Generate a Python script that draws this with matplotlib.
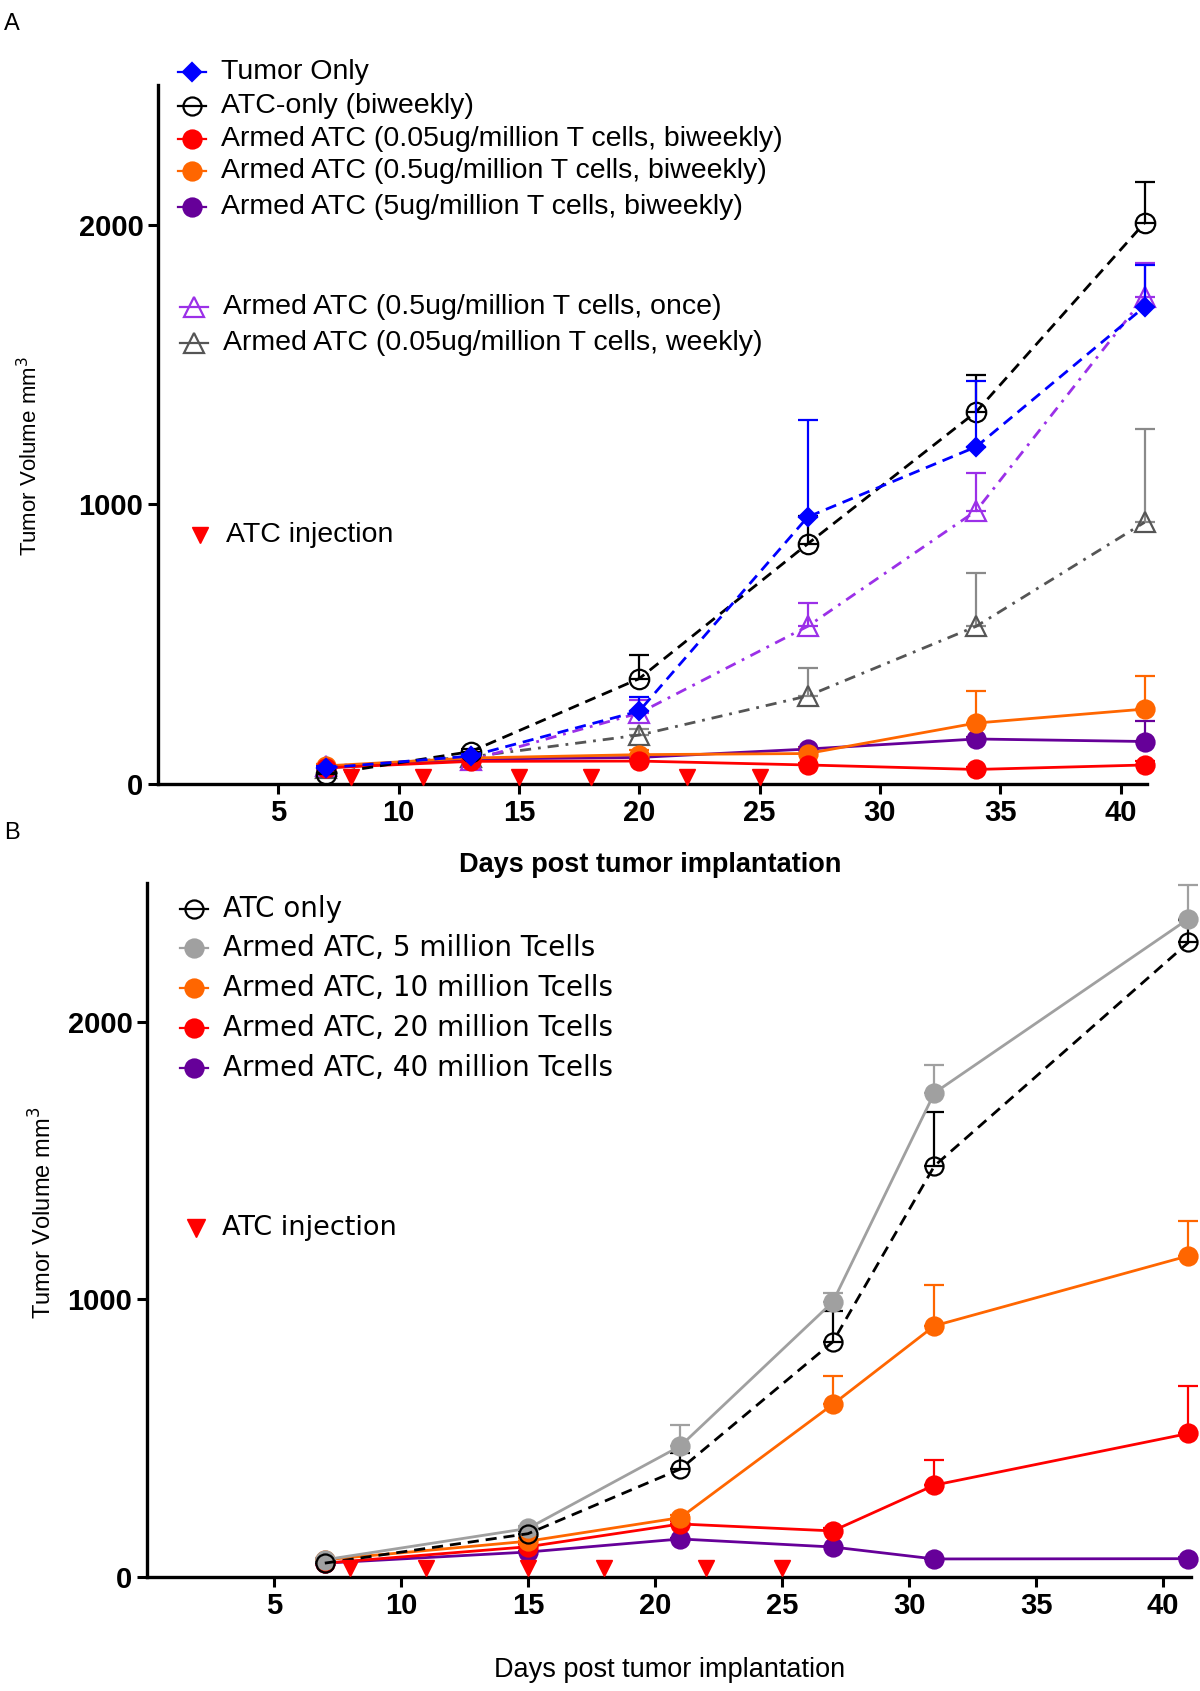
import numpy as np
import matplotlib.pyplot as plt

# ---------------- data, panel A ----------------
days_a = [7, 13, 20, 27, 34, 41]
tumor_only = [58, 100, 261, 955, 1206, 1707]
tumor_only_err = [8, 8, 50, 348, 237, 150]
atc_bi = [35, 116, 377, 859, 1331, 2007]
atc_bi_err = [5, 8, 85, 100, 132, 147]
armed005_bi = [58, 81, 82, 68, 52, 68]
armed005_bi_err = [8, 8, 8, 8, 8, 15]
armed05_bi = [65, 93, 105, 109, 218, 268]
armed05_bi_err = [8, 8, 15, 20, 116, 120]
armed5_bi = [58, 89, 95, 125, 161, 152]
armed5_bi_err = [8, 8, 8, 8, 8, 73]
armed05_once = [65, 85, 254, 564, 977, 1742]
armed05_once_err = [8, 8, 45, 85, 137, 120]
armed005_wk = [58, 97, 175, 315, 564, 936]
armed005_wk_err = [8, 8, 20, 101, 190, 334]
inj_a = [8, 11, 15, 18, 22, 25]

# ---------------- data, panel B ----------------
days_b = [7, 15, 21, 27, 31, 41]
atc_b = [50, 156, 389, 847, 1481, 2286]
atc_b_err = [5, 10, 56, 111, 195, 80]
t5_b = [62, 175, 472, 991, 1744, 2371]
t5_b_err = [5, 10, 74, 32, 101, 123]
t10_b = [62, 129, 214, 622, 905, 1157]
t10_b_err = [5, 10, 10, 102, 147, 124]
t20_b = [50, 109, 191, 166, 331, 517]
t20_b_err = [5, 10, 10, 10, 90, 171]
t40_b = [50, 90, 137, 108, 65, 66]
t40_b_err = [5, 5, 5, 5, 5, 5]
inj_b = [8, 11, 15, 18, 22, 25]

W, H = 1200, 1691
RED = '#FF0000'
ORANGE = '#FF6600'
DPURPLE = '#660099'
VIOLET = '#9B30E8'
DGRAY = '#555555'
LGRAY = '#A0A0A0'
DASH = (4, 2.5)
DASHDOT = (4, 2.5, 1, 2.5)

LA = 'Liberation Sans'
LB = 'DejaVu Sans'
fig = plt.figure(figsize=(12, 16.91), dpi=100)


def fx(px):
    return px / W


def fy(py):
    return 1 - py / H


def style_axes(ax, xlim, tsize):
    ax.set_xlim(*xlim)
    ax.set_ylim(0, 2500)
    ax.set_xticks([5, 10, 15, 20, 25, 30, 35, 40])
    ax.set_yticks([0, 1000, 2000])
    ax.patch.set_visible(False)
    for s in ['top', 'right']:
        ax.spines[s].set_visible(False)
    for s in ['left', 'bottom']:
        ax.spines[s].set_linewidth(2.4)
    ax.tick_params(width=2.2, length=7, labelsize=tsize)
    for lab in ax.get_xticklabels() + ax.get_yticklabels():
        lab.set_fontweight('bold')
        lab.set_family(LA)


def series(ax, x, y, err, color, marker, dashes, mfc, ms, z, ecolor=None):
    zeros = np.zeros(len(err))
    ax.errorbar(x, y, yerr=[zeros, err], fmt='none', ecolor=ecolor or color,
                elinewidth=1.6, capsize=7.5, capthick=1.6, zorder=z - 0.5,
                clip_on=False)
    line, = ax.plot(x, y, color=color, lw=2, marker=marker, ms=ms,
                    mfc=mfc, mec=color, mew=1.6, zorder=z, clip_on=False)
    if dashes is not None:
        line.set_dashes(dashes)


def legend_entry(px, py, color, marker, mfc, ms, label, size, family):
    fig.add_artist(plt.Line2D([fx(px - 14), fx(px + 14)], [fy(py), fy(py)],
                              color=color, lw=1.6))
    fig.add_artist(plt.Line2D([fx(px)], [fy(py)], color=color, marker=marker,
                              ms=ms, mfc=mfc, mec=color, mew=1.6, lw=0))
    fig.text(fx(px + 29), fy(py), label, fontsize=size, family=family,
             va='center', ha='left')


##############################################################################
# Panel A
axA = fig.add_axes([fx(158), fy(784), fx(1147 - 158), (784 - 85) / H])
series(axA, days_a, armed005_wk, armed005_wk_err, DGRAY, '^', DASHDOT, 'none', 14, 3,
       ecolor='#8a8a8a')
series(axA, days_a, armed05_once, armed05_once_err, VIOLET, '^', DASHDOT, 'none', 14, 3.2)
series(axA, days_a, armed5_bi, armed5_bi_err, DPURPLE, 'o', None, DPURPLE, 13, 4)
series(axA, days_a, armed05_bi, armed05_bi_err, ORANGE, 'o', None, ORANGE, 13, 4.2)
series(axA, days_a, armed005_bi, armed005_bi_err, RED, 'o', None, RED, 13, 4.4)
series(axA, days_a, atc_bi, atc_bi_err, 'black', 'o', DASH, 'none', 14, 5)
series(axA, days_a, tumor_only, tumor_only_err, '#0000FF', 'D', DASH, '#0000FF', 9, 5.5)
axA.plot(inj_a, [25] * len(inj_a), 'v', color=RED, ms=11, zorder=6, clip_on=False)
style_axes(axA, (0, 41.1), 21)
fig.text(fx(650), fy(865), 'Days post tumor implantation', fontsize=19.5,
         fontweight='bold', family=LA, ha='center', va='center')
fig.text(fx(30), fy(456), 'Tumor Volume mm$^3$', rotation=90, fontsize=16,
         family=LA, va='center', ha='center')
fig.text(fx(4), fy(24), 'A', fontsize=17, family=LA, va='center')

legend_entry(192, 72, '#0000FF', 'D', '#0000FF', 9, 'Tumor Only', 20.5, LA)
legend_entry(192, 106, 'black', 'o', 'none', 13, 'ATC-only (biweekly)', 20.5, LA)
legend_entry(192, 139, RED, 'o', RED, 13, 'Armed ATC (0.05ug/million T cells, biweekly)', 20.5, LA)
legend_entry(192, 171, ORANGE, 'o', ORANGE, 13, 'Armed ATC (0.5ug/million T cells, biweekly)', 20.5, LA)
legend_entry(192, 207, DPURPLE, 'o', DPURPLE, 13, 'Armed ATC (5ug/million T cells, biweekly)', 20.5, LA)
legend_entry(194, 307, VIOLET, '^', 'none', 14, 'Armed ATC (0.5ug/million T cells, once)', 20.5, LA)
legend_entry(194, 343, DGRAY, '^', 'none', 14, 'Armed ATC (0.05ug/million T cells, weekly)', 20.5, LA)
fig.add_artist(plt.Line2D([fx(200)], [fy(535)], marker='v', color=RED, ms=11, lw=0))
fig.text(fx(226), fy(535), 'ATC injection', fontsize=20.5, family=LA, va='center')

##############################################################################
# Panel B
axB = fig.add_axes([fx(147), fy(1577), fx(1191 - 147), (1577 - 883) / H])
series(axB, days_b, t40_b, t40_b_err, DPURPLE, 'o', None, DPURPLE, 13, 3)
series(axB, days_b, t20_b, t20_b_err, RED, 'o', None, RED, 13, 3.2)
series(axB, days_b, t10_b, t10_b_err, ORANGE, 'o', None, ORANGE, 13, 3.4)
series(axB, days_b, t5_b, t5_b_err, LGRAY, 'o', None, LGRAY, 13, 3.6)
series(axB, days_b, atc_b, atc_b_err, 'black', 'o', DASH, 'none', 13, 4)
axB.plot(inj_b, [32] * len(inj_b), 'v', color=RED, ms=12, zorder=6, clip_on=False)
style_axes(axB, (0, 41.1), 21)
fig.text(fx(670), fy(1670), 'Days post tumor implantation', fontsize=19.5,
         family=LA, ha='center', va='center')
fig.text(fx(43), fy(1213), 'Tumor Volume mm$^3$', rotation=90, fontsize=17,
         family=LA, va='center', ha='center')
fig.text(fx(4), fy(833), 'B', fontsize=17, family=LA, va='center')

legend_entry(194, 909, 'black', 'o', 'none', 13, 'ATC only', 20, LB)
legend_entry(194, 948, LGRAY, 'o', LGRAY, 13, 'Armed ATC, 5 million Tcells', 20, LB)
legend_entry(194, 988, ORANGE, 'o', ORANGE, 13, 'Armed ATC, 10 million Tcells', 20, LB)
legend_entry(194, 1028, RED, 'o', RED, 13, 'Armed ATC, 20 million Tcells', 20, LB)
legend_entry(194, 1068, DPURPLE, 'o', DPURPLE, 13, 'Armed ATC, 40 million Tcells', 20, LB)
fig.add_artist(plt.Line2D([fx(196)], [fy(1228)], marker='v', color=RED, ms=13, lw=0))
fig.text(fx(222), fy(1228), 'ATC injection', fontsize=19.5, family=LB, va='center')

fig.savefig('out.png', dpi=100)
